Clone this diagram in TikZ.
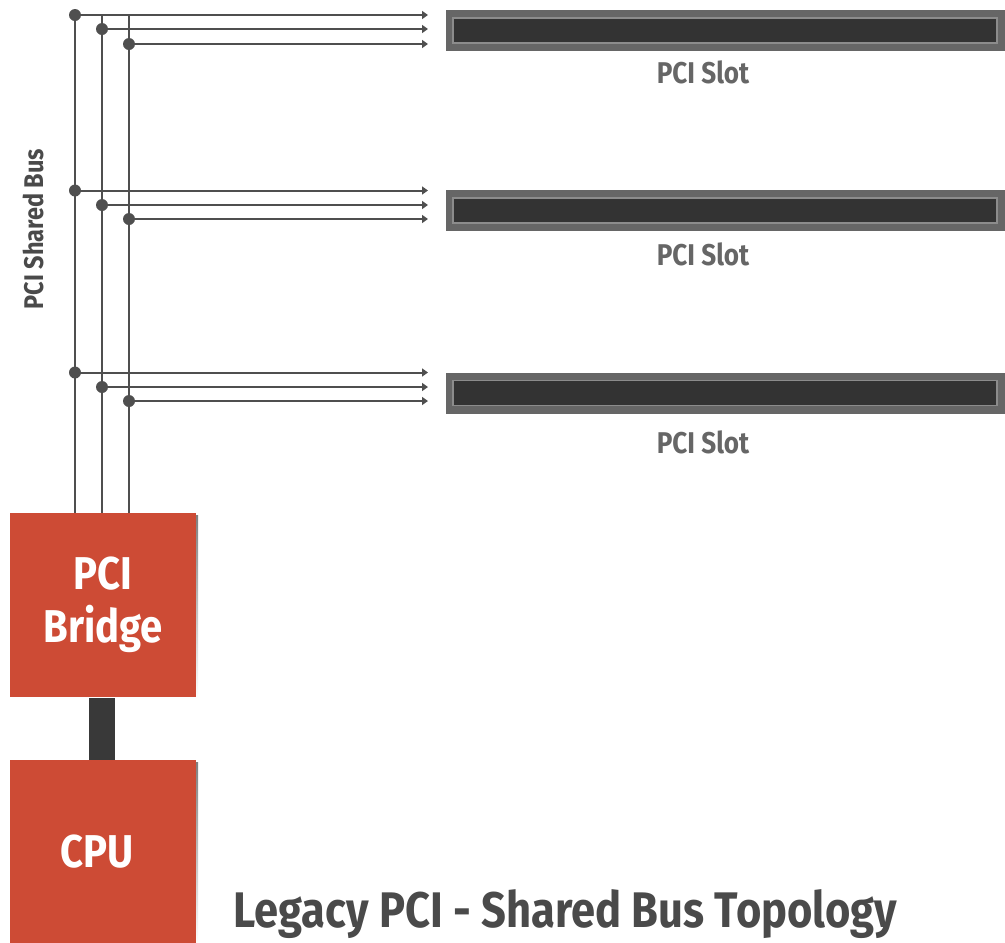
\documentclass[tikz,border=0pt]{standalone}
\usepackage{fontspec}
\setmainfont{Fira Sans}
\newfontfamily\cb{Fira Sans}[FakeStretch=0.87]
\usetikzlibrary{arrows.meta}
\definecolor{brick}{HTML}{CD4B35}
\definecolor{wire}{HTML}{4F4F4F}
\definecolor{slotout}{HTML}{666666}
\definecolor{slotin}{HTML}{333333}
\definecolor{slotedge}{HTML}{8C8C8C}
\definecolor{txtgrey}{HTML}{4A4A4A}
\definecolor{shade}{HTML}{BDBDBD}
\begin{document}
\begin{tikzpicture}[x=1pt,y=-1pt,
  wireline/.style={draw=wire,line width=2pt},
  busarrow/.style={wireline,-{Triangle[length=6pt,width=8pt]}},
  tap/.style={circle,fill=wire,inner sep=0pt,minimum size=12pt},
  chip/.style={rectangle,fill=brick,inner sep=0pt,text=white,
    minimum width=186pt,font=\cb\bfseries\fontsize{46}{53}\selectfont,align=center},
  link/.style={rectangle,fill=slotin!80!wire,inner sep=0pt,minimum width=26pt,minimum height=62pt},
  slotouter/.style={rectangle,fill=slotout,inner sep=0pt,minimum width=559pt,minimum height=41pt},
  slotinner/.style={rectangle,fill=slotin,draw=slotedge,line width=1.5pt,inner sep=0pt,
    minimum width=544pt,minimum height=25pt},
  slotlabel/.style={text=slotout,anchor=base,font=\cb\bfseries\fontsize{30}{32}\selectfont},
  buslabel/.style={text=txtgrey,rotate=90,font=\cb\bfseries\fontsize{27}{29}\selectfont},
  titlelabel/.style={text=txtgrey,anchor=base west,font=\cb\bfseries\fontsize{50}{55}\selectfont}
]
\useasboundingbox (0,0) rectangle (1005,943);

% chips
\fill[shade] (12,515) rectangle (198,699);
\node[chip,minimum height=184pt] (bridge) at (103,605) {PCI\\Bridge};
\fill[shade] (12,762) rectangle (198,945);
\node[chip,minimum height=183pt] (cpu) at (103,851.5) {CPU\hspace*{12pt}};
\node[link] (lnk) at (102,728.5) {};

% slots
\foreach \n/\y in {1/30.5,2/210.5,3/393}{
  \node[slotouter] (slot\n) at (725.5,\y) {};
  \node[slotinner] (slotin\n) at (725,\y) {};
}
\node[slotlabel] (lab1) at (703,83) {PCI Slot};
\node[slotlabel] (lab2) at (703,265) {PCI Slot};
\node[slotlabel] (lab3) at (703,453) {PCI Slot};

% taps
\coordinate (a1) at (75,15);   \coordinate (b1) at (102,29);  \coordinate (c1) at (129,44);
\coordinate (a2) at (75,190.5);\coordinate (b2) at (102,205); \coordinate (c2) at (129,219);
\coordinate (a3) at (75,372.5);\coordinate (b3) at (102,387); \coordinate (c3) at (129,401);

% vertical bus lines
\draw[wireline] (bridge.north -| a1) -- (a1);
\draw[wireline] (bridge.north -| b1) -- (b1 |- a1);
\draw[wireline] (bridge.north -| c1) -- (c1 |- a1);

% horizontal arrows
\foreach \n in {1,2,3}{
  \coordinate (ea\n) at (428,0 |- a\n);
  \coordinate (eb\n) at (428,0 |- b\n);
  \coordinate (ec\n) at (428,0 |- c\n);
  \draw[busarrow] (a\n) -- (ea\n);
  \draw[busarrow] (b\n) -- (eb\n);
  \draw[busarrow] (c\n) -- (ec\n);
  \node[tap] (ta\n) at (a\n) {};
  \node[tap] (tb\n) at (b\n) {};
  \node[tap] (tc\n) at (c\n) {};
}

\node[buslabel] (bus) at (33,229) {PCI Shared Bus};
\node[titlelabel] (title) at (230,927) {Legacy PCI - Shared Bus Topology};
\end{tikzpicture}
\end{document}
